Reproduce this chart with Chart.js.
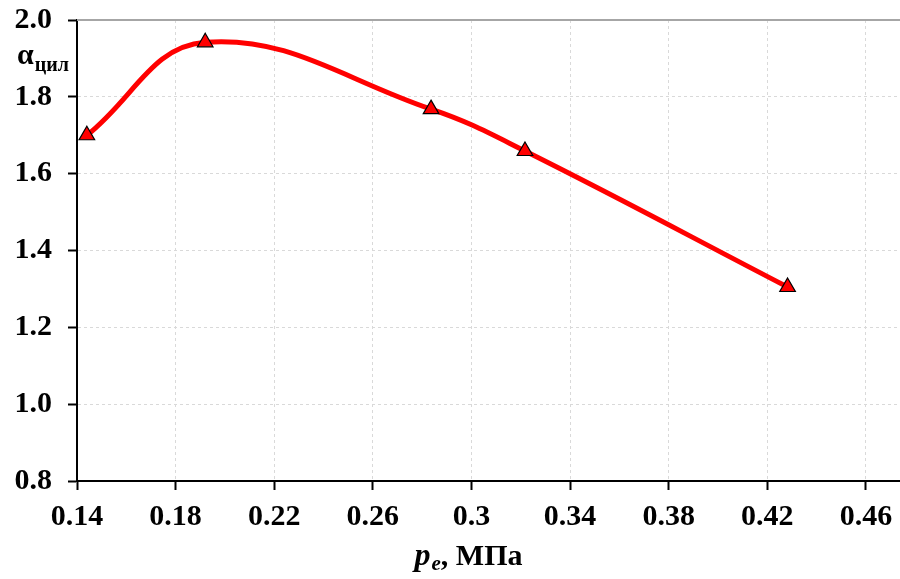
<!DOCTYPE html>
<html>
<head>
<meta charset="utf-8">
<script src="https://cdn.jsdelivr.net/npm/chart.js@4.4.1/dist/chart.umd.min.js"></script>
<style>
  html, body { margin: 0; padding: 0; background: #fff; }
  #wrap { width: 900px; height: 579px; }
</style>
</head>
<body>
<div id="wrap"><canvas id="myChart" width="900" height="579"></canvas></div>
<script>
// p_e, MPa
const pressure = [0.144, 0.192, 0.2836, 0.3217, 0.4282];
// alpha_cyl
const alphaCyl = [1.70, 1.942, 1.768, 1.659, 1.305];

const xTicks = [0.14, 0.18, 0.22, 0.26, 0.3, 0.34, 0.38, 0.42, 0.46];
const xTickLabels = ['0.14', '0.18', '0.22', '0.26', '0.3', '0.34', '0.38', '0.42', '0.46'];
const yTicks = [0.8, 1.0, 1.2, 1.4, 1.6, 1.8, 2.0];

const serif = "'Liberation Serif', 'Times New Roman', serif";

const labelsPlugin = {
    id: 'labels',
    afterDraw(chart) {
        const c = chart.ctx;
        const area = chart.chartArea;
        c.save();
        // top frame line
        c.strokeStyle = '#a6a6a6';
        c.lineWidth = 2;
        c.beginPath();
        c.moveTo(area.left, area.top);
        c.lineTo(area.right, area.top);
        c.stroke();

        c.fillStyle = '#000';
        c.textBaseline = 'alphabetic';
        c.textAlign = 'left';
        // y title: alpha with subscript
        c.font = 'bold 30px ' + serif;
        c.fillText('α', 17, 64);
        const aw = c.measureText('α').width;
        c.font = 'bold 20px ' + serif;
        c.fillText('цил', 17 + aw + 1, 71);

        // x title: p_e, MPa
        const p1 = 'p', p2 = 'e', p3 = ', МПа';
        c.font = 'italic bold 32px ' + serif;
        const w1 = c.measureText(p1).width;
        c.font = 'italic bold 21px ' + serif;
        const w2 = c.measureText(p2).width;
        c.font = 'bold 30px ' + serif;
        const w3 = c.measureText(p3).width;
        let x = 468 - (w1 + w2 + w3) / 2;
        const base = 565;
        c.font = 'italic bold 32px ' + serif;
        c.fillText(p1, x, base);
        x += w1 + 1;
        c.font = 'italic bold 21px ' + serif;
        c.fillText(p2, x, base + 5);
        x += w2;
        c.font = 'bold 30px ' + serif;
        c.fillText(p3, x, base);
        c.restore();
    }
};

const ctx = document.getElementById('myChart').getContext('2d');
const myChart = new Chart(ctx, {
    type: 'line',
    data: {
        datasets: [{
            data: pressure.map((p, i) => ({ x: p, y: alphaCyl[i] })),
            borderColor: '#ff0000',
            borderWidth: 5,
            tension: 0.4,
            pointStyle: 'triangle',
            pointRadius: 9,
            pointBackgroundColor: '#ff0000',
            pointBorderColor: '#000',
            pointBorderWidth: 1.2,
            clip: false
        }]
    },
    options: {
        responsive: false,
        animation: false,
        layout: { autoPadding: false, padding: { top: 20, right: 0, left: 0, bottom: 0 } },
        plugins: {
            legend: { display: false },
            tooltip: { enabled: false }
        },
        scales: {
            x: {
                type: 'linear',
                min: 0.14,
                max: 0.4738,
                afterBuildTicks: axis => { axis.ticks = xTicks.map(v => ({ value: v })); },
                afterFit: axis => {
                    axis.height = 98;
                    axis.paddingLeft = 0;
                    axis.paddingRight = 0;
                },
                ticks: {
                    callback: (v) => xTickLabels[xTicks.findIndex(t => Math.abs(t - v) < 1e-6)],
                    font: { family: serif, size: 30, weight: 'bold' },
                    color: '#000',
                    padding: 9,
                    maxRotation: 0,
                    autoSkip: false
                },
                grid: {
                    color: '#d9d9d9',
                    lineWidth: 1,
                    tickColor: '#000',
                    tickWidth: 2,
                    tickLength: 9
                },
                border: { color: '#000', width: 2, dash: [3, 3] }
            },
            y: {
                min: 0.8,
                max: 2.0,
                afterBuildTicks: axis => { axis.ticks = yTicks.map(v => ({ value: v })); },
                afterFit: axis => {
                    axis.width = 77;
                    axis.paddingTop = 0;
                    axis.paddingBottom = 0;
                },
                ticks: {
                    callback: v => v.toFixed(1),
                    font: { family: serif, size: 30, weight: 'bold' },
                    color: '#000',
                    padding: 16
                },
                grid: {
                    color: '#d9d9d9',
                    lineWidth: 1,
                    tickColor: '#000',
                    tickWidth: 2,
                    tickLength: 9
                },
                border: { color: '#000', width: 2, dash: [3, 3] }
            }
        }
    },
    plugins: [labelsPlugin]
});
</script>
</body>
</html>
